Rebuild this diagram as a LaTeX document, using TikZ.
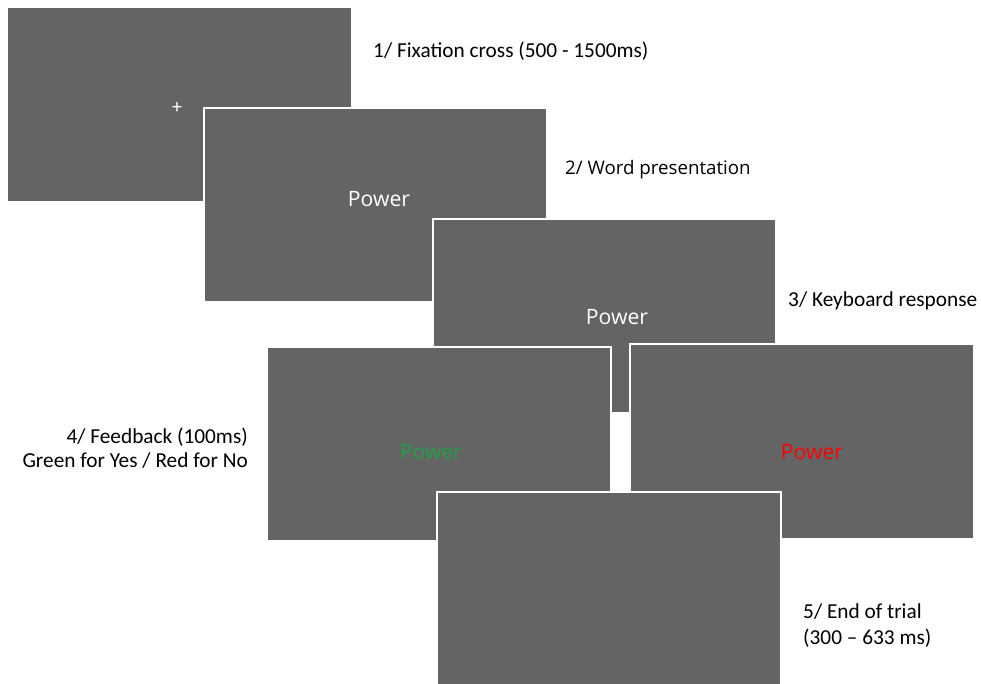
\documentclass[tikz,border=0pt]{standalone}
\usepackage{fontspec}
\setmainfont{Carlito}
\newfontfamily\osans{Open Sans}
\definecolor{screen}{RGB}{100,100,100}
\definecolor{fbgreen}{RGB}{34,160,70}
\definecolor{fbred}{RGB}{255,0,0}
\begin{document}
\begin{tikzpicture}[x=1pt,y=-1pt,
  scr/.style={fill=screen,draw=white,line width=1.8pt},
  lbl/.style={font=\fontsize{21.3}{25}\selectfont,text=black,inner sep=0pt},
  word/.style={font=\osans\fontsize{21.2}{25}\selectfont,inner sep=0pt}]
\useasboundingbox (0,0) rectangle (981,683);
\clip (0,0) rectangle (981,683);
\path[scr,draw=none] (8,8) rectangle (351,201);
\coordinate (s1) at (179.5,104.5);
\node[text=white,font=\fontsize{20}{20}\selectfont,inner sep=0pt] (cross) at (177,108) {+};
\draw[scr] (204,108) rectangle (547,302);
\node[word,text=white] (w2) at (379,199) {Power};
\draw[scr] (433,219) rectangle (776,413);
\node[word,text=white] (w3) at (617,317) {Power};
\draw[scr] (267,347) rectangle (611,541);
\node[word,text=fbgreen] (w4) at (431,452) {Power};
\draw[scr] (630,344) rectangle (974,539);
\node[word,text=fbred] (w5) at (812,452) {Power};
\draw[scr] (437,492) rectangle (781,690);
\node[lbl,anchor=west] (l1) at (373,51) {1/ Fixation cross (500 - 1500ms)};
\node[lbl,anchor=west,font=\osans\fontsize{18.7}{22}\selectfont] (l2) at (565,170) {2/ Word presentation};
\node[lbl,anchor=west] (l3) at (788,301) {3/ Keyboard response};
\node[lbl,anchor=east] (l4a) at (248,437) {4/ Feedback (100ms)};
\node[lbl,anchor=east] (l4b) at (248,461) {Green for Yes / Red for No};
\node[lbl,anchor=west] (l5a) at (803,612) {5/ End of trial};
\node[lbl,anchor=west] (l5b) at (803,638) {(300 -- 633 ms)};
\end{tikzpicture}
\end{document}
